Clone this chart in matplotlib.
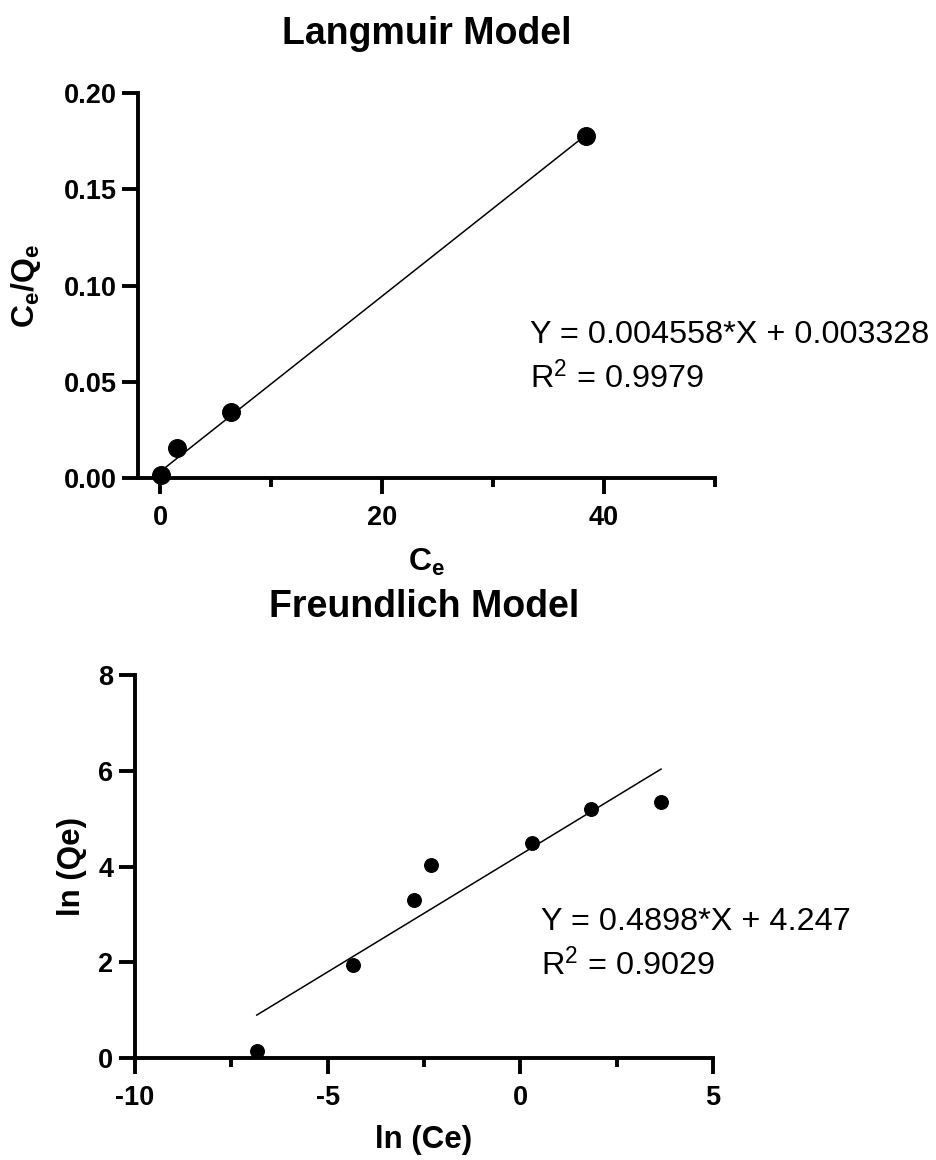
import numpy as np
import matplotlib
matplotlib.use("Agg")
import matplotlib.pyplot as plt
from matplotlib.ticker import MultipleLocator

plt.rcParams['font.family'] = ['Liberation Sans', 'DejaVu Sans']
plt.rcParams['mathtext.fontset'] = 'custom'
plt.rcParams['mathtext.rm'] = 'Liberation Sans'
plt.rcParams['mathtext.it'] = 'Liberation Sans'
plt.rcParams['mathtext.bf'] = 'Liberation Sans:bold'
plt.rcParams['axes.unicode_minus'] = False

# Langmuir data
ce = [0.05, 1.5, 6.4, 38.4]
ce_qe = [0.0016, 0.0156, 0.0343, 0.1777]
lang_slope, lang_int = 0.004558, 0.003328

# Freundlich data
ln_ce = [-6.84, -4.35, -2.75, -2.31, 0.31, 1.84, 3.65]
ln_qe = [0.14, 1.94, 3.30, 4.03, 4.49, 5.20, 5.34]
fr_slope, fr_int = 0.4898, 4.247

fig = plt.figure(figsize=(9.36, 11.6), dpi=100)
ax1 = fig.add_axes([0.1474, 0.5879, 0.6165, 0.3319])
ax2 = fig.add_axes([0.1442, 0.0879, 0.6176, 0.3302])


def style(ax):
    for s in ['top', 'right']:
        ax.spines[s].set_visible(False)
    for s in ['left', 'bottom']:
        ax.spines[s].set_linewidth(2.8)
    ax.tick_params(which='major', length=11.5, width=2.8, labelsize=19.5)
    ax.tick_params(which='minor', length=6.5, width=2.8)
    ax.tick_params(axis='x', which='major', pad=8)
    ax.tick_params(axis='y', which='major', pad=4)
    ax.tick_params(axis='y', which='minor', left=False)
    for lab in ax.get_xticklabels() + ax.get_yticklabels():
        lab.set_fontweight('bold')


# top plot
ax1.scatter(ce, ce_qe, s=160, color='black', zorder=3, clip_on=False)
xf = np.array([min(ce), max(ce)])
ax1.plot(xf, lang_slope * xf + lang_int, color='black', lw=1.1)
ax1.set_xlim(-2, 50)
ax1.set_ylim(0, 0.20)
ax1.xaxis.set_major_locator(MultipleLocator(20))
ax1.xaxis.set_minor_locator(MultipleLocator(10))
ax1.yaxis.set_major_locator(MultipleLocator(0.05))
ax1.yaxis.set_major_formatter(plt.FormatStrFormatter('%.2f'))
style(ax1)
ax1.set_title('Langmuir Model', fontsize=27, fontweight='bold', pad=35)
ax1.set_xlabel(r'$\mathbf{C_e}$', fontsize=23)
ax1.set_ylabel(r'$\mathbf{C_e/Q_e}$', fontsize=23)
ax1.xaxis.set_label_coords(0.5, -0.18)
ax1.yaxis.set_label_coords(-0.165, 0.5)
ax1.text(33.3, 0.0743, 'Y = 0.004558*X + 0.003328', fontsize=23.3, va='center')
ax1.text(33.3, 0.052, r'R$^2$ = 0.9979', fontsize=23.3, va='center')

# bottom plot
ax2.scatter(ln_ce, ln_qe, s=95, color='black', zorder=3, clip_on=False)
xf2 = np.array([min(ln_ce), max(ln_ce)])
ax2.plot(xf2, fr_slope * xf2 + fr_int, color='black', lw=1.1)
ax2.set_xlim(-10, 5)
ax2.set_ylim(0, 8)
ax2.xaxis.set_major_locator(MultipleLocator(5))
ax2.xaxis.set_minor_locator(MultipleLocator(2.5))
ax2.yaxis.set_major_locator(MultipleLocator(2))
style(ax2)
ax2.set_title('Freundlich Model', fontsize=27, fontweight='bold', pad=42)
ax2.set_xlabel('ln (Ce)', fontsize=22.5, fontweight='bold')
ax2.set_ylabel('ln (Qe)', fontsize=22.5, fontweight='bold')
ax2.xaxis.set_label_coords(0.5, -0.175)
ax2.yaxis.set_label_coords(-0.083, 0.5)
ax2.text(0.54, 2.84, 'Y = 0.4898*X + 4.247', fontsize=23.3, va='center')
ax2.text(0.54, 1.94, r'R$^2$ = 0.9029', fontsize=23.3, va='center')

fig.savefig('out.png', dpi=100)
